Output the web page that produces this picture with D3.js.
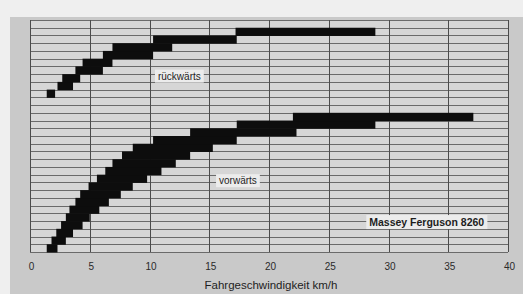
<!DOCTYPE html>
<html>
<head>
<meta charset="utf-8">
<script src="https://cdn.jsdelivr.net/npm/d3@7"></script>
<style>
  body { margin: 0; background: #f0f0f0; }
  svg { display: block; font-family: "Liberation Sans", Arial, sans-serif; }
</style>
</head>
<body>
<div id="chart"></div>
<script>
// speed ranges per gear, km/h
const reverseGears = ["R1", "R2", "R3", "R4", "R5", "R6", "R7", "R8", "R9"];
const reverseMin = [1.4, 2.3, 2.7, 3.8, 4.4, 6.1, 6.9, 10.3, 17.2];
const reverseMax = [2.1, 3.6, 4.2, 6.1, 6.9, 10.3, 11.9, 17.3, 28.9];

const forwardGears = ["F1", "F2", "F3", "F4", "F5", "F6", "F7", "F8", "F9",
    "F10", "F11", "F12", "F13", "F14", "F15", "F16", "F17", "F18"];
const forwardMin = [1.4, 1.8, 2.2, 2.6, 3.0, 3.3, 3.8, 4.2, 4.9,
    5.6, 6.3, 6.9, 7.7, 8.6, 10.3, 13.4, 17.3, 22.0];
const forwardMax = [2.3, 3.0, 3.6, 4.4, 5.0, 5.8, 6.6, 7.6, 8.6,
    9.8, 11.0, 12.2, 13.4, 15.3, 17.3, 22.3, 28.9, 37.1];

const xTicks = [0, 5, 10, 15, 20, 25, 30, 35, 40];
const xTitle = "Fahrgeschwindigkeit km/h";

// row order top to bottom, with empty rows around the reverse block
const rows = ["pad"].concat(reverseGears.slice().reverse(), ["gap1", "gap2"], forwardGears.slice().reverse());

const W = 523, H = 294;
const plot = {left: 30, right: 508, top: 20, bottom: 252};

const x = d3.scaleLinear().domain([0, 40]).range([plot.left, plot.right]);
const y = d3.scaleBand().domain(rows).range([plot.top, plot.bottom]);

const svg = d3.select("#chart").append("svg")
    .attr("width", W)
    .attr("height", H);

// page and panel background
svg.append("rect").attr("width", W).attr("height", H).attr("fill", "#efefef");
svg.append("rect")
    .attr("x", 10).attr("y", 17)
    .attr("width", W - 10).attr("height", H - 17)
    .attr("fill", "#c9c9c9");
svg.append("rect")
    .attr("x", plot.left).attr("y", plot.top)
    .attr("width", plot.right - plot.left).attr("height", plot.bottom - plot.top)
    .attr("fill", "#d6d6d6");

// horizontal row lines
const lineYs = rows.map(r => y(r)).concat([plot.bottom]);
svg.append("g").selectAll("line")
    .data(lineYs)
    .enter().append("line")
    .attr("x1", plot.left).attr("x2", plot.right)
    .attr("y1", d => Math.round(d) + 0.5)
    .attr("y2", d => Math.round(d) + 0.5)
    .attr("stroke", "#6a6a6a")
    .attr("stroke-width", 1);

// vertical grid lines
svg.append("g").selectAll("line")
    .data(xTicks)
    .enter().append("line")
    .attr("x1", d => Math.round(x(d)) + 0.5)
    .attr("x2", d => Math.round(x(d)) + 0.5)
    .attr("y1", plot.top).attr("y2", plot.bottom)
    .attr("stroke", "#4a4a4a")
    .attr("stroke-width", 1);

function drawBars(gears, mins, maxs) {
    const data = gears.map((g, i) => ({gear: g, min: mins[i], max: maxs[i]}));
    svg.append("g").selectAll("rect")
        .data(data)
        .enter().append("rect")
        .attr("x", d => x(d.min))
        .attr("y", d => y(d.gear))
        .attr("width", d => x(d.max) - x(d.min))
        .attr("height", y.bandwidth() + 0.5)
        .attr("fill", "#0d0d0d");
}
drawBars(reverseGears, reverseMin, reverseMax);
drawBars(forwardGears, forwardMin, forwardMax);

// label boxes
function labelBox(text, cx, cy, size, weight) {
    const g = svg.append("g");
    const t = g.append("text")
        .attr("x", cx).attr("y", cy)
        .attr("text-anchor", "middle")
        .attr("dominant-baseline", "central")
        .attr("font-size", size)
        .attr("font-weight", weight)
        .attr("fill", "#1e1e1e")
        .text(text);
    const bb = t.node().getBBox();
    g.insert("rect", "text")
        .attr("x", bb.x - 3).attr("y", bb.y - 1)
        .attr("width", bb.width + 6).attr("height", bb.height + 2)
        .attr("fill", "#ececec");
}
labelBox("rückwärts", x(12.5), y("R3") + 2, 10, "normal");
labelBox("vorwärts", x(17.4), y("F10") + 6, 10, "normal");
labelBox("Massey Ferguson 8260", x(33.2), y("F4") + 1, 10.5, "bold");

// x axis labels
const xAxis = d3.axisBottom(x).tickValues(xTicks).tickSize(0).tickPadding(0);
const ax = svg.append("g")
    .attr("transform", "translate(1," + (plot.bottom + 11) + ")")
    .call(xAxis);
ax.select(".domain").remove();
ax.selectAll("text")
    .attr("font-size", 10)
    .attr("font-family", "Liberation Sans, Arial, sans-serif")
    .attr("fill", "#2a2a2a");

svg.append("text")
    .attr("x", 271).attr("y", 289)
    .attr("text-anchor", "middle")
    .attr("font-size", 11.5)
    .attr("fill", "#1e1e1e")
    .text(xTitle);
</script>
</body>
</html>
